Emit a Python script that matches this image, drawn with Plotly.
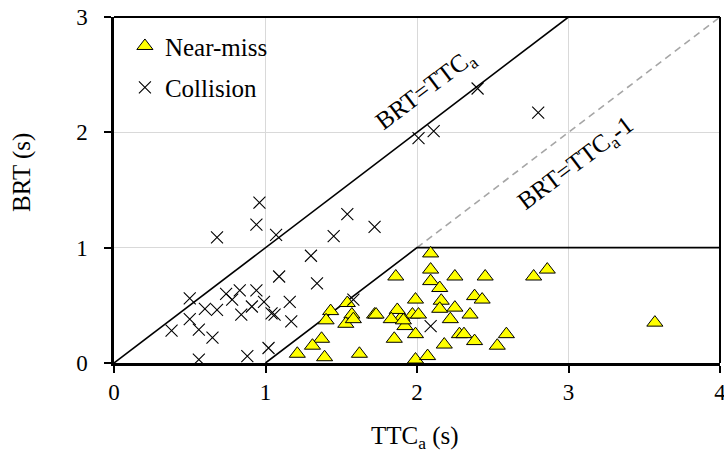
import numpy as np
import plotly.graph_objects as go

# Near-miss events: available time-to-collision (s) and brake reaction time (s)
near_miss_ttc = [2.09, 2.09, 2.09, 2.15, 2.25, 2.45, 2.77, 2.86, 2.16, 2.15,
                 1.99, 2.38, 2.43, 2.25, 2.22, 2.35, 1.97, 2.01, 1.90, 1.92,
                 1.99, 2.28, 2.31, 2.38, 2.18, 2.53, 2.59, 1.99, 2.07, 3.57,
                 1.86, 1.43, 1.54, 1.57, 1.40, 1.53, 1.58, 1.72, 1.73, 1.87,
                 1.83, 1.91, 1.85, 1.37, 1.31, 1.21, 1.39, 1.62]
near_miss_brt = [0.95, 0.81, 0.71, 0.65, 0.75, 0.75, 0.75, 0.81, 0.54, 0.47,
                 0.55, 0.58, 0.55, 0.48, 0.38, 0.42, 0.42, 0.42, 0.40, 0.32,
                 0.25, 0.25, 0.25, 0.19, 0.16, 0.15, 0.25, 0.03, 0.06, 0.35,
                 0.75, 0.45, 0.52, 0.42, 0.37, 0.34, 0.38, 0.42, 0.42, 0.46,
                 0.38, 0.37, 0.21, 0.21, 0.15, 0.08, 0.05, 0.08]

# Collision events
collision_ttc = [2.40, 2.80, 2.01, 2.11, 0.96, 0.94, 0.68, 1.07, 1.30, 1.09,
                 1.34, 1.54, 1.45, 1.72, 0.50, 0.74, 0.83, 0.94, 0.78, 0.99,
                 1.16, 0.60, 0.68, 0.91, 0.84, 0.50, 1.04, 1.06, 1.17, 0.38,
                 0.56, 0.65, 0.56, 0.88, 1.02, 1.58, 2.09]
collision_brt = [2.38, 2.17, 1.95, 2.01, 1.39, 1.20, 1.09, 1.11, 0.93, 0.75,
                 0.69, 1.29, 1.10, 1.18, 0.56, 0.60, 0.63, 0.63, 0.55, 0.53,
                 0.53, 0.47, 0.46, 0.49, 0.42, 0.38, 0.43, 0.42, 0.36, 0.28,
                 0.29, 0.22, 0.03, 0.06, 0.13, 0.55, 0.32]

# Guide lines: BRT = TTCa, BRT = TTCa - 1 and the near-miss boundary
equal_ttc = np.array([0.0, 3.0])
offset_ttc = np.array([2.0, 4.0])
bound_ttc = np.array([1.0, 2.0, 4.0])

tick_vals_x = [0, 1, 2, 3, 4]
tick_vals_y = [0, 1, 2, 3]

FONT = "Liberation Serif, Times New Roman, serif"

fig = go.Figure()

fig.add_trace(go.Scatter(
    x=equal_ttc, y=equal_ttc, mode="lines",
    line=dict(color="black", width=1.6), showlegend=False, hoverinfo="skip"))
fig.add_trace(go.Scatter(
    x=offset_ttc, y=offset_ttc - 1.0, mode="lines",
    line=dict(color="#a6a6a6", width=1.6, dash="7px,5px"),
    showlegend=False, hoverinfo="skip"))
fig.add_trace(go.Scatter(
    x=bound_ttc, y=np.minimum(bound_ttc - 1.0, 1.0), mode="lines",
    line=dict(color="black", width=1.6), showlegend=False, hoverinfo="skip"))

fig.add_trace(go.Scatter(
    x=near_miss_ttc, y=near_miss_brt, mode="markers", name="Near-miss",
    legendgroup="nm",
    marker=dict(symbol="triangle-up", size=14, color="#ffff00",
                line=dict(color="black", width=1))))
fig.add_trace(go.Scatter(
    x=collision_ttc, y=collision_brt, mode="markers", name="Collision",
    legendgroup="col",
    marker=dict(symbol="x-thin-open", size=12, color="black",
                line=dict(color="black", width=1.1))))

axis_common = dict(
    showline=True, linecolor="black", linewidth=2.5,
    ticks="outside", ticklen=7, tickwidth=2, tickcolor="black",
    showgrid=True, gridcolor="#d9d9d9", gridwidth=1, zeroline=False,
    ticklabeloverflow="allow", automargin=False,
    tickfont=dict(family=FONT, size=23, color="black"),
)

fig.update_xaxes(range=[0, 4], tickvals=tick_vals_x, **axis_common)
fig.update_yaxes(range=[0, 3], tickvals=tick_vals_y, ticklabelstandoff=12,
                 **axis_common)

# Top and right frame lines
fig.add_shape(type="line", xref="paper", yref="paper", x0=0, x1=1, y0=1, y1=1,
              line=dict(color="black", width=2))
fig.add_shape(type="line", xref="paper", yref="paper", x0=1, x1=1, y0=0, y1=1,
              line=dict(color="black", width=2))

fig.add_annotation(x=2.06, y=2.36, text="BRT=TTC<sub>a</sub>", showarrow=False,
                   textangle=-37, font=dict(family=FONT, size=25, color="black"))
fig.add_annotation(x=3.05, y=1.72, text="BRT=TTC<sub>a</sub>-1", showarrow=False,
                   textangle=-37, font=dict(family=FONT, size=25, color="black"))

fig.add_annotation(xref="paper", yref="paper", x=-0.152, y=0.552,
                   xanchor="center", yanchor="middle",
                   text="BRT (s)", showarrow=False, textangle=-90,
                   font=dict(family=FONT, size=25, color="black"))
fig.add_annotation(xref="paper", yref="paper", x=0.497, y=-0.214,
                   xanchor="center", yanchor="middle",
                   text="TTC<sub>a</sub> (s)", showarrow=False,
                   font=dict(family=FONT, size=25, color="black"))

fig.update_layout(
    width=724, height=455,
    margin=dict(l=114, r=4, t=17, b=92, autoexpand=False),
    plot_bgcolor="white", paper_bgcolor="white",
    legend=dict(x=0.018, y=0.982, xanchor="left", yanchor="top",
                bgcolor="rgba(0,0,0,0)", borderwidth=0,
                itemwidth=30,
                traceorder="grouped", tracegroupgap=6,
                font=dict(family=FONT, size=25, color="black")),
)

fig.write_html("out.html")
